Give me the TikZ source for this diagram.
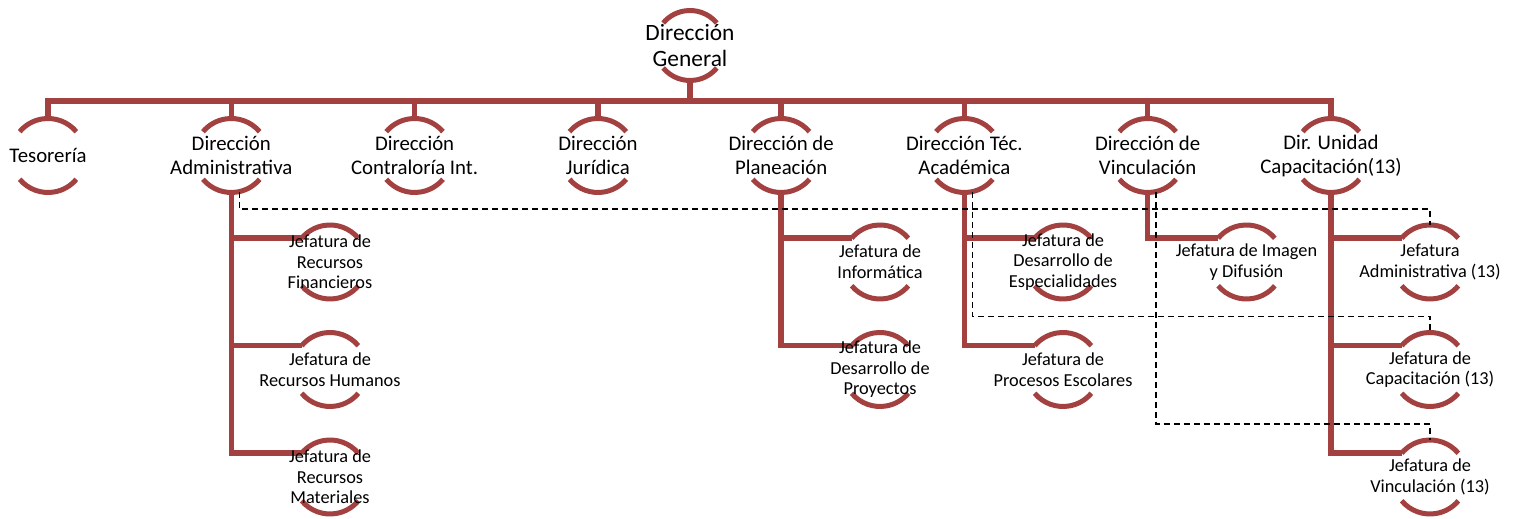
\documentclass[tikz,border=0pt]{standalone}
\usepackage{fontspec}
\setmainfont{Carlito}
\usepackage{tikz}
\usetikzlibrary{backgrounds}
\definecolor{ringred}{RGB}{163,65,65}

\begin{document}
\begin{tikzpicture}[x=0.5pt,y=0.5pt,
    every node/.style={align=center,inner sep=0pt},
    root/.style={font=\fontsize{11.7}{12.6}\selectfont},
    dir/.style={font=\fontsize{10.4}{12}\selectfont},
    jef/.style={font=\fontsize{9.15}{10.3}\selectfont},
    ring/.style={draw=ringred,line width=2.5pt},
    link/.style={draw=ringred,line width=2.75pt},
    dotlink/.style={draw=black,line width=0.65pt,dash pattern=on 3pt off 2pt}
  ]
  \useasboundingbox (0,0) rectangle (1517,519);
  \node[root] (dirGen) at (690,473.5) {Dirección\\General};
  \coordinate (bus) at (690,418);
  \node[dir] (tes) at (48,363.5) {Tesorería};
  \node[dir] (dirAdm) at (231.3,363.5) {Dirección\\Administrativa};
  \node[dir] (dirCon) at (414.6,363.5) {Dirección\\Contraloría Int.};
  \node[dir] (dirJur) at (597.9,363.5) {Dirección\\Jurídica};
  \node[dir] (dirPla) at (781.1,363.5) {Dirección de\\Planeación};
  \node[dir] (dirTec) at (964.4,363.5) {Dirección Téc.\\Académica};
  \node[dir] (dirVin) at (1147.7,363.5) {Dirección de\\Vinculación};
  \node[dir] (dirCap) at (1331,363.5) {Dir. Unidad\\Capacitación(13)};
  \node[jef] (jefFin) at (330,257) {Jefatura de\\Recursos\\Financieros};
  \node[jef] (jefHum) at (330,149.5) {Jefatura de\\Recursos Humanos};
  \node[jef] (jefMat) at (330,42) {Jefatura de\\Recursos\\Materiales};
  \node[jef] (jefInf) at (880,257) {Jefatura de\\Informática};
  \node[jef] (jefPro) at (880,149.5) {Jefatura de\\Desarrollo de\\Proyectos};
  \node[jef] (jefEsp) at (1063,257) {Jefatura de\\Desarrollo de\\Especialidades};
  \node[jef] (jefEsc) at (1063,149.5) {Jefatura de\\Procesos Escolares};
  \node[jef] (jefImg) at (1246.5,257) {Jefatura de Imagen\\y Difusión};
  \node[jef] (jefAdm) at (1430,257) {Jefatura\\Administrativa (13)};
  \node[jef] (jefCap) at (1430,149.5) {Jefatura de\\Capacitación (13)};
  \node[jef] (jefVin) at (1430,42) {Jefatura de\\Vinculación (13)};
  \begin{scope}[on background layer]
    \draw[ring] ([shift={(40:35)}]dirGen.center) arc[start angle=40,end angle=140,radius=35];
    \draw[ring] ([shift={(220:35)}]dirGen.center) arc[start angle=220,end angle=320,radius=35];
    \foreach \n in {tes,dirAdm,dirCon,dirJur,dirPla,dirTec,dirVin,dirCap,jefFin,jefHum,jefMat,jefInf,jefPro,jefEsp,jefEsc,jefImg,jefAdm,jefCap,jefVin}{
      \draw[ring] ([shift={(40:37)}]\n.center) arc[start angle=40,end angle=140,radius=37];
      \draw[ring] ([shift={(220:37)}]\n.center) arc[start angle=220,end angle=320,radius=37];
    }
    \draw[link] ([shift={(270:35)}]dirGen.center) -- (bus);
    \foreach \n in {tes,dirAdm,dirCon,dirJur,dirPla,dirTec,dirVin,dirCap}
      \draw[link] (bus) -| ([shift={(90:37)}]\n.center);
    \foreach \p/\c in {dirAdm/jefFin,dirAdm/jefHum,dirAdm/jefMat,dirPla/jefInf,dirPla/jefPro,dirTec/jefEsp,dirTec/jefEsc,dirVin/jefImg,dirCap/jefAdm,dirCap/jefCap,dirCap/jefVin}
      \draw[link] ([shift={(270:37)}]\p.center) |- ([shift={(140:37)}]\c.center);
  \end{scope}
  \foreach \p/\c in {dirAdm/jefAdm,dirTec/jefCap,dirVin/jefVin}
    \draw[dotlink] ([shift={(283:37)}]\p.center) |- ([shift={(0,53)}]\c.center) -- ([shift={(90:37)}]\c.center);
\end{tikzpicture}
\end{document}
